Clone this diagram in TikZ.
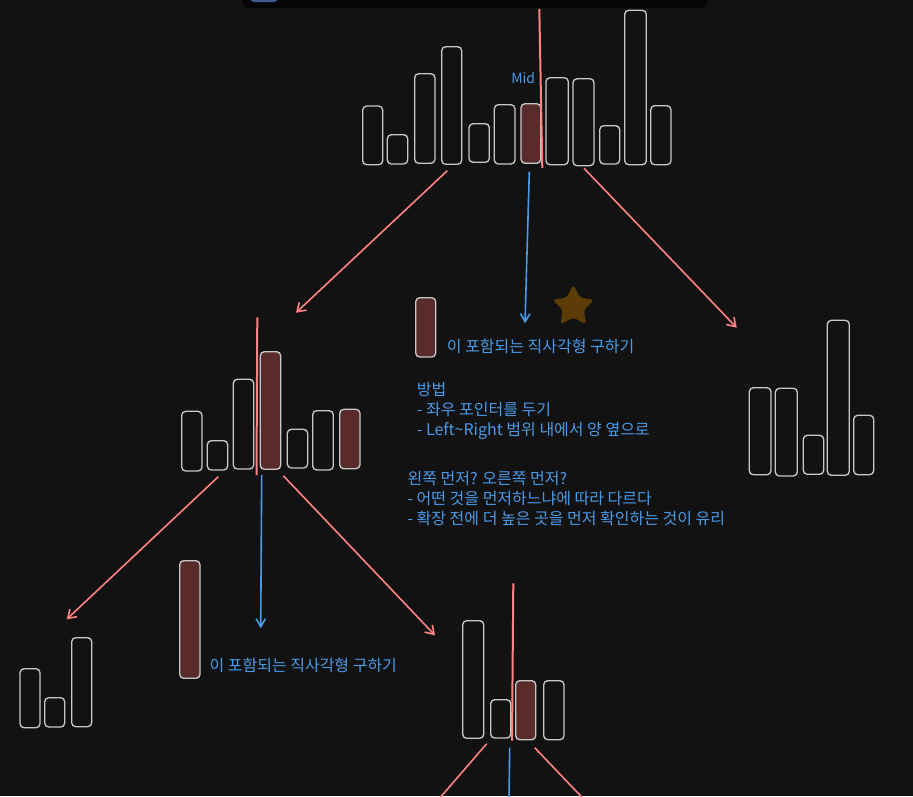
\documentclass[tikz,border=0pt]{standalone}
\usepackage{fontspec}
\setmainfont{Noto Sans CJK KR}
\usetikzlibrary{arrows.meta,shapes.geometric}
\definecolor{bg}{HTML}{121212}
\definecolor{barline}{HTML}{C8C8C8}
\definecolor{hitfill}{HTML}{5A2B2B}
\definecolor{redline}{HTML}{FF8383}
\definecolor{blueline}{HTML}{4A9AE8}
\definecolor{starfill}{HTML}{5C3D08}
\definecolor{topbar}{HTML}{050505}
\definecolor{toolblue}{HTML}{3D5C96}
\begin{document}
\begin{tikzpicture}[x=0.75pt,y=-0.75pt,
  bar/.style={draw=barline,line width=1pt,rounded corners=3pt},
  hitbar/.style={bar,fill=hitfill},
  split/.style={redline,line width=1.5pt},
  go/.style={redline,line width=1.2pt,-{Straight Barb[length=6pt,width=8pt]}},
  look/.style={blueline,line width=1.2pt,-{Straight Barb[length=6pt,width=7pt]}},
  note/.style={text=blueline,font=\fontsize{12}{15}\selectfont,inner sep=0pt,anchor=west,align=left}]
\fill[bg] (0,0) rectangle (913,796);
\clip (0,0) rectangle (913,796);
\fill[topbar,rounded corners=6pt] (242,-20) rectangle (708,8);
\fill[toolblue,rounded corners=3pt] (250,-10) rectangle (278,2);

% whole array
\foreach \xa/\xb/\ya/\yb in {362.7/382.7/106/164.7,387.3/407.7/134.7/164,414.7/435/73.7/163.3,
  441.7/461.7/46.7/164.3,469/489.3/123.7/162.3,494.3/515/104.7/164,546/568.3/77.7/164.7,
  573/594/78.7/165.7,599.7/619.7/125.7/164,624.7/646.3/10.3/164.7,650.7/671/105.7/164.7}
  \draw[bar] (\xa,\ya) rectangle (\xb,\yb);
\draw[hitbar] (521,103.7) rectangle (540.7,163.3);
\draw[split] (539.3,9) -- (542.3,168);
\node[note,font=\fontsize{10.5}{15}\selectfont] (mid) at (511,77.7) {Mid};

% left half
\foreach \xa/\xb/\ya/\yb in {181.7/202/411.3/471,207.3/227.7/440.7/470,233.3/253.7/379.3/469,
  287.3/307.7/429.3/468,312.7/333.3/410.7/470}
  \draw[bar] (\xa,\ya) rectangle (\xb,\yb);
\draw[hitbar] (260.3,351.7) rectangle (280.7,469.3);
\draw[hitbar] (339.7,409.3) rectangle (360,468.7);
\draw[split] (257.3,317.3) -- (256.5,475);

% right half
\foreach \xa/\xb/\ya/\yb in {749.3/771/387.7/474.7,775.3/797.3/388.3/476,803.3/823.7/435.3/474.3,
  827.3/849.3/320.3/475.3,853.7/873.7/415.3/474.7}
  \draw[bar] (\xa,\ya) rectangle (\xb,\yb);

% left-left
\foreach \xa/\xb/\ya/\yb in {20/40/668.7/727.7,44.7/64.7/697.7/727,71.7/91.7/637.7/726.7}
  \draw[bar] (\xa,\ya) rectangle (\xb,\yb);

% left-right
\foreach \xa/\xb/\ya/\yb in {462.7/483.7/620.7/738.3,490.7/510.7/699.7/738,543.7/564/680.7/739.7}
  \draw[bar] (\xa,\ya) rectangle (\xb,\yb);
\draw[hitbar] (515.7,680.7) rectangle (535.7,739.7);
\draw[split] (513.3,583.3) -- (512,740.7);

% middle answers
\draw[hitbar] (415.7,297.7) rectangle (435.7,357);
\node[note] (ans1) at (446.7,346.7) {이 포함되는 직사각형 구하기};
\node[star,star points=5,star point ratio=2,fill=starfill,minimum size=33pt,inner sep=0pt,rounded corners=2.5pt] (fav) at (573.3,306.5) {};
\node[note] (how) at (416.7,411) {방법\\- 좌우 포인터를 두기\\- Left\textasciitilde Right 범위 내에서 양 옆으로};
\node[note] (which) at (407.3,499) {왼쪽 먼저? 오른쪽 먼저?\\- 어떤 것을 먼저하느냐에 따라 다르다\\- 확장 전에 더 높은 곳을 먼저 확인하는 것이 유리};
\draw[hitbar] (179.7,560.7) rectangle (200,678.3);
\node[note] (ans2) at (209.3,665.7) {이 포함되는 직사각형 구하기};

% splits
\coordinate (aL) at (447.3,170.7); \coordinate (aM) at (529.3,171.7); \coordinate (aR) at (584,168.3);
\coordinate (bL) at (296,312.7); \coordinate (bM) at (525,323.3); \coordinate (bR) at (736.7,327.7);
\coordinate (cL) at (218.3,476.7); \coordinate (cM) at (261.7,475); \coordinate (cR) at (283.3,475.7);
\coordinate (dL) at (66.7,619.3); \coordinate (dM) at (260.7,628.3); \coordinate (dR) at (435,635.3);
\coordinate (eL) at (486.7,743.7); \coordinate (eM) at (509.7,747.7); \coordinate (eR) at (534.7,747.7);
\coordinate (fL) at (438.9,799); \coordinate (fM) at (509,800); \coordinate (fR) at (584.6,800);
\draw[go] (aL) -- (bL);
\draw[look] (aM) -- (bM);
\draw[go] (aR) -- (bR);
\draw[go] (cL) -- (dL);
\draw[look] (cM) -- (dM);
\draw[go] (cR) -- (dR);
\draw[redline,line width=1.2pt] (eL) -- (fL);
\draw[blueline,line width=1.2pt] (eM) -- (fM);
\draw[redline,line width=1.2pt] (eR) -- (fR);
\end{tikzpicture}
\end{document}
